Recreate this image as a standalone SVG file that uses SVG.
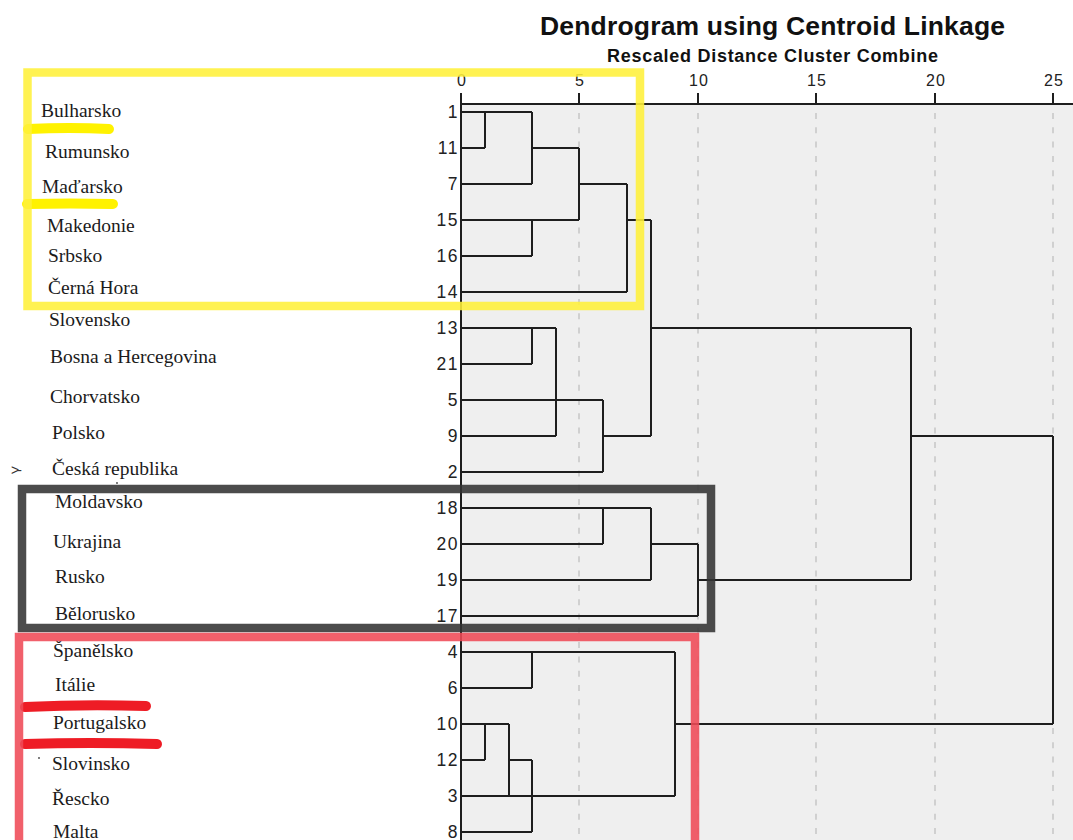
<svg xmlns="http://www.w3.org/2000/svg" width="1073" height="840" viewBox="0 0 1073 840">
<style>
.lbl{font-family:"Liberation Serif","Times New Roman",serif;font-size:19.5px;fill:#1b1b1b}
.num{font-family:"Liberation Sans",Arial,sans-serif;font-size:17.5px;fill:#222;text-anchor:end;letter-spacing:1.5px}
.tick{font-family:"Liberation Sans",Arial,sans-serif;font-size:16px;fill:#222;text-anchor:middle;letter-spacing:1px}
.grid{stroke:#c9c9c9;stroke-width:1.6;stroke-dasharray:6 8.3}
.den{fill:none;stroke:#1e1e1e;stroke-width:2}
.box{fill:none;stroke-width:8.5;opacity:0.88}
.hl{fill:none;stroke-linecap:round}
</style>
<rect width="1073" height="840" fill="#ffffff"/>
<g id="plot-area">
<rect x="461" y="104" width="612" height="736" fill="#efefef"/>
<line class="grid" x1="579" y1="113" x2="579" y2="840"/>
<line class="grid" x1="698" y1="113" x2="698" y2="840"/>
<line class="grid" x1="816" y1="113" x2="816" y2="840"/>
<line class="grid" x1="935" y1="113" x2="935" y2="840"/>
<line class="grid" x1="1053" y1="113" x2="1053" y2="840"/>
</g>
<g id="title">
<text x="540" y="35" font-family="Liberation Sans, Arial, sans-serif" font-size="26.5" font-weight="bold" fill="#111" textLength="465" lengthAdjust="spacing">Dendrogram using Centroid Linkage</text>
<text x="607" y="62" font-family="Liberation Sans, Arial, sans-serif" font-size="18" font-weight="bold" fill="#111" textLength="331" lengthAdjust="spacing">Rescaled Distance Cluster Combine</text>
</g>
<g id="axis">
<path d="M461 104 H1073 M461 93 V840 M579 93 V104 M698 93 V104 M816 93 V104 M935 93 V104 M1053 93 V104" fill="none" stroke="#1e1e1e" stroke-width="2"/>
<text class="tick" x="462" y="86">0</text>
<text class="tick" x="580" y="86">5</text>
<text class="tick" x="699" y="86">10</text>
<text class="tick" x="817" y="86">15</text>
<text class="tick" x="936" y="86">20</text>
<text class="tick" x="1054" y="86">25</text>
</g>
<g id="connectors">
<path class="den" d="M461 112 H532 M461 148 H485 M485 112 V148 M532 112 V184 M461 184 H532 M532 148 H579 M579 148 V220 M461 220 H579 M461 256 H532 M532 220 V256 M579 184 H627 M627 184 V292 M461 292 H627 M627 220 H651 M651 220 V436"/>
<path class="den" d="M461 328 H556 M461 364 H532 M532 328 V364 M556 328 V436 M461 400 H603 M461 436 H556 M603 400 V472 M461 472 H603 M603 436 H651 M651 328 H911"/>
<path class="den" d="M461 508 H651 M461 544 H603 M603 508 V544 M651 508 V580 M461 580 H651 M651 544 H698 M698 544 V616 M461 616 H698 M698 580 H911 M911 328 V580 M911 436 H1053 M1053 436 V724"/>
<path class="den" d="M461 652 H675 M461 688 H532 M532 652 V688 M461 724 H509 M461 760 H485 M485 724 V760 M509 724 V796 M461 796 H675 M509 760 H532 M532 760 V832 M461 832 H532 M675 652 V796 M675 724 H1053"/>
</g>
<g id="leaf-numbers">
<text class="num" x="459" y="118">1</text>
<text class="num" x="459" y="154">11</text>
<text class="num" x="459" y="190">7</text>
<text class="num" x="459" y="226">15</text>
<text class="num" x="459" y="262">16</text>
<text class="num" x="459" y="298">14</text>
<text class="num" x="459" y="334">13</text>
<text class="num" x="459" y="370">21</text>
<text class="num" x="459" y="406">5</text>
<text class="num" x="459" y="442">9</text>
<text class="num" x="459" y="478">2</text>
<text class="num" x="459" y="514">18</text>
<text class="num" x="459" y="550">20</text>
<text class="num" x="459" y="586">19</text>
<text class="num" x="459" y="622">17</text>
<text class="num" x="459" y="658">4</text>
<text class="num" x="459" y="694">6</text>
<text class="num" x="459" y="730">10</text>
<text class="num" x="459" y="766">12</text>
<text class="num" x="459" y="802">3</text>
<text class="num" x="459" y="838">8</text>
</g>
<g id="country-labels">
<text class="lbl" x="41" y="117">Bulharsko</text>
<text class="lbl" x="45" y="158">Rumunsko</text>
<text class="lbl" x="42" y="193">Maďarsko</text>
<text class="lbl" x="47" y="232">Makedonie</text>
<text class="lbl" x="48" y="262">Srbsko</text>
<text class="lbl" x="48" y="294">Černá Hora</text>
<text class="lbl" x="49" y="326">Slovensko</text>
<text class="lbl" x="50" y="363">Bosna a Hercegovina</text>
<text class="lbl" x="50" y="403">Chorvatsko</text>
<text class="lbl" x="52" y="439">Polsko</text>
<text class="lbl" x="52" y="475">Česká republika</text>
<text class="lbl" x="55" y="508">Moldavsko</text>
<text class="lbl" x="53" y="548">Ukrajina</text>
<text class="lbl" x="55" y="583">Rusko</text>
<text class="lbl" x="55" y="620">Bělorusko</text>
<text class="lbl" x="53" y="657">Španělsko</text>
<text class="lbl" x="55" y="691">Itálie</text>
<text class="lbl" x="53" y="729">Portugalsko</text>
<text class="lbl" x="52" y="770">Slovinsko</text>
<text class="lbl" x="52" y="805">Řescko</text>
<text class="lbl" x="53" y="838">Malta</text>
<text x="11" y="475" font-family="Liberation Sans, Arial, sans-serif" font-size="14" fill="#333" letter-spacing="-2">&gt;-</text>
<circle cx="117" cy="483" r="0.9" fill="#444"/>
<circle cx="39" cy="758" r="0.9" fill="#444"/>
</g>
<g id="highlights">
<path class="hl" d="M28 129 Q70 127 109 129" stroke="#fff200" stroke-width="10"/>
<path class="hl" d="M27 204 Q70 203 113 204" stroke="#fff200" stroke-width="10"/>
<path class="hl" d="M25 707 Q85 704 146 706" stroke="#ee1c25" stroke-width="10"/>
<path class="hl" d="M25 744 Q90 742 157 744" stroke="#ee1c25" stroke-width="10"/>
</g>
<g id="group-boxes">
<rect id="box-yellow" class="box" x="27.5" y="72.5" width="612.5" height="233.5" stroke="#fff03a"/>
<rect id="box-dark" class="box" x="22" y="489" width="689" height="139" stroke="#333333"/>
<rect id="box-red" class="box" x="19" y="637" width="676" height="250" stroke="#ef4a56"/>
</g>
</svg>
